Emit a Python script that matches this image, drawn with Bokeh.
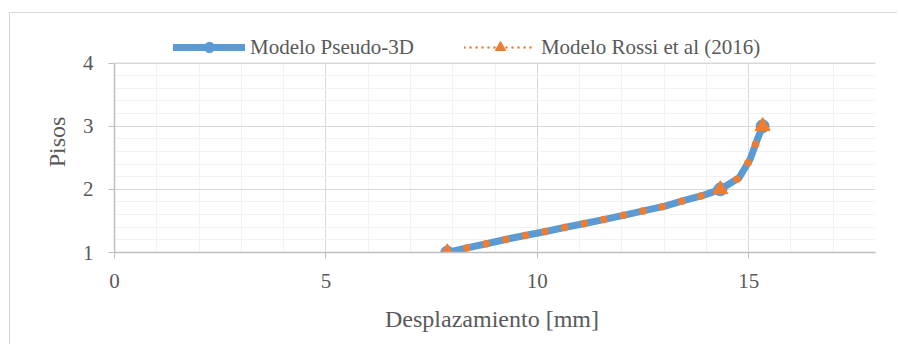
from bokeh.plotting import figure
from bokeh.models import (Range1d, SingleIntervalTicker, Legend, LegendItem,
                          BoxAnnotation, Span)
from bokeh.embed import file_html
from bokeh.resources import INLINE

# ---- data ----
pisos = [1, 2, 3]
desp_pseudo3d = [7.87, 14.33, 15.33]
desp_rossi = [7.87, 14.33, 15.33]

# smoothed curve through the points
curva_desp = [7.87, 8.34, 8.80, 9.27, 9.74, 10.20, 10.67, 11.15, 11.62, 12.09,
              12.56, 13.02, 13.48, 13.94, 14.33, 14.77, 15.03, 15.21, 15.33]
curva_pisos = [1.0, 1.074, 1.138, 1.21, 1.274, 1.333, 1.40, 1.464, 1.528, 1.597,
               1.666, 1.734, 1.824, 1.908, 2.0, 2.18, 2.47, 2.80, 3.0]

x_axis_limits = [0, 18]
y_axis_limits = [1, 4]

series_names = ["Modelo Pseudo-3D", "Modelo Rossi et al (2016)"]
x_title = "Desplazamiento  [mm]"
y_title = "Pisos"

BLUE = "#5b9bd5"
ORANGE = "#ed7d31"
TEXT = "#595959"
FONT = "Liberation Serif"

# the frame reaches a little above the top of the axis to hold the legend
p = figure(width=888, height=332, output_backend="svg", toolbar_location=None,
           x_range=Range1d(*x_axis_limits),
           y_range=Range1d(y_axis_limits[0], y_axis_limits[1] + 0.5),
           min_border_left=104, min_border_right=23, min_border_top=18,
           min_border_bottom=93)
p.styles = {"margin-left": "9px", "margin-top": "12px",
            "border-left": "1px solid #d9d9d9", "border-top": "1px solid #d9d9d9"}

p.xaxis.ticker = SingleIntervalTicker(interval=5, num_minor_ticks=5)
p.yaxis.ticker = SingleIntervalTicker(interval=1, num_minor_ticks=5)
p.yaxis.bounds = tuple(y_axis_limits)

for ax in (p.xaxis, p.yaxis):
    ax.axis_line_color = "#bfbfbf"
    ax.axis_line_width = 1.5
    ax.major_tick_line_color = "#bfbfbf"
    ax.major_tick_out = 6
    ax.major_tick_in = 0
    ax.minor_tick_out = 0
    ax.minor_tick_in = 0
    ax.major_label_text_font = FONT
    ax.major_label_text_font_size = "21px"
    ax.major_label_text_color = TEXT
    ax.major_label_standoff = 15
    ax.axis_label_text_font = FONT
    ax.axis_label_text_font_size = "24px"
    ax.axis_label_text_font_style = "normal"
    ax.axis_label_text_color = TEXT

p.xaxis.axis_label_standoff = 15
p.yaxis.axis_label_standoff = 10
p.xaxis.axis_label = x_title
p.yaxis.axis_label = y_title

for g in (p.xgrid, p.ygrid):
    g.grid_line_color = "#d9d9d9"
    g.minor_grid_line_color = "#f2f2f2"

p.outline_line_color = None
p.background_fill_color = "white"
p.border_fill_color = "white"

# hide the grid above the top of the axis (legend area)
p.add_layout(BoxAnnotation(bottom=y_axis_limits[1], fill_color="white", fill_alpha=1,
                           line_alpha=0, level="underlay"))
p.add_layout(Span(location=y_axis_limits[1], dimension="width",
                  line_color="#d9d9d9", line_width=1, level="underlay"))

# thin dotted line (used as legend sample; hidden under the blue line)
r_leg = p.line(curva_desp, curva_pisos, line_width=2.5, color=ORANGE,
               line_dash="0 6", line_cap="round")
r1 = p.line(curva_desp, curva_pisos, line_width=7, color=BLUE,
            line_cap="round", line_join="round")
r2 = p.scatter(desp_pseudo3d, pisos, marker="circle", size=13, color=BLUE)
r3 = p.line(curva_desp, curva_pisos, line_width=7.5, color=ORANGE,
            line_dash="0 20", line_cap="round", line_join="round")
r4 = p.scatter(desp_rossi, pisos, marker="triangle", size=15, color=ORANGE)

legend = Legend(items=[LegendItem(label=series_names[0], renderers=[r1, r2]),
                       LegendItem(label=series_names[1], renderers=[r_leg, r4])],
                location=(59, 192), orientation="horizontal",
                glyph_width=72, glyph_height=26, label_height=20,
                label_standoff=5, spacing=50,
                padding=0, margin=0, background_fill_alpha=0,
                border_line_color=None,
                label_text_font=FONT, label_text_font_size="21px",
                label_text_color=TEXT)
p.add_layout(legend, "center")

open("out.html", "w").write(file_html(p, INLINE))
